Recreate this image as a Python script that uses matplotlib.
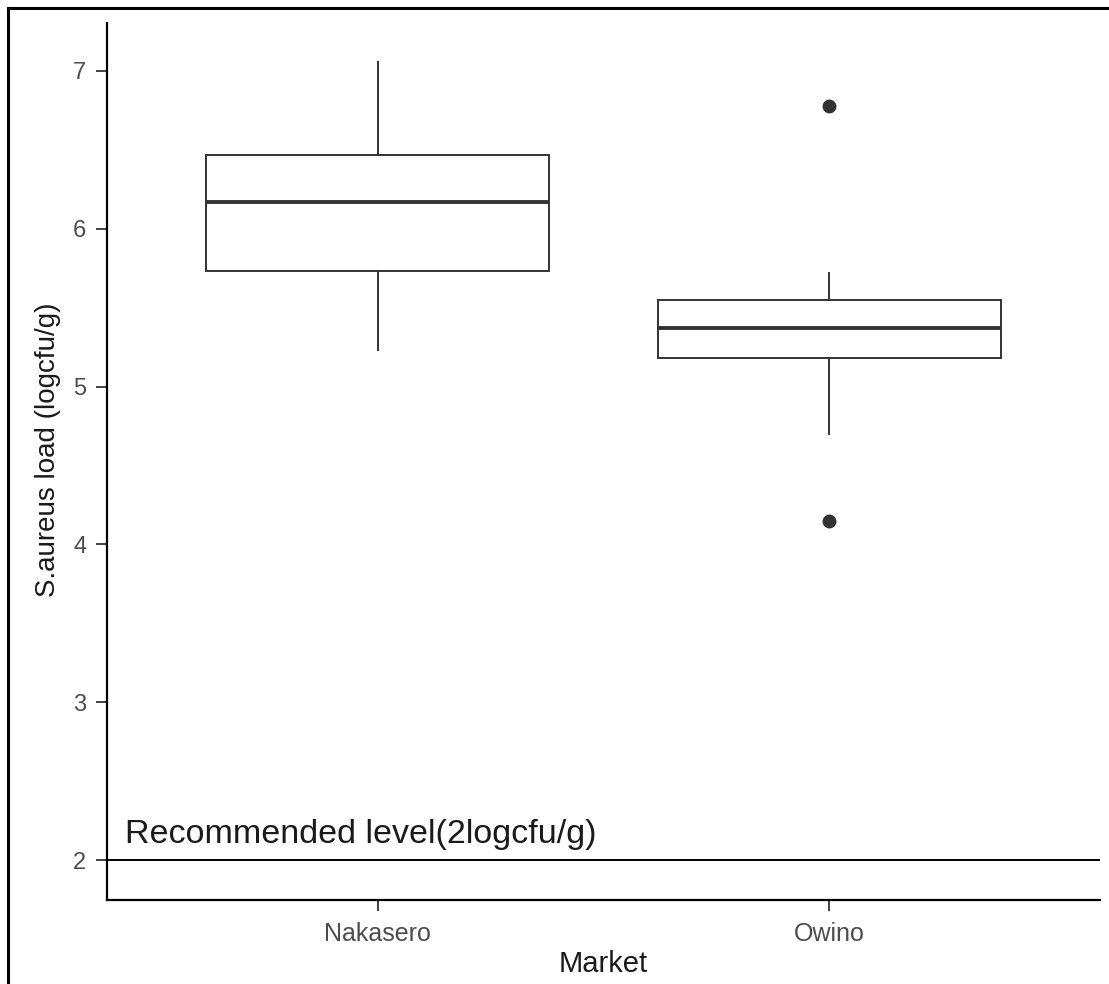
import matplotlib
matplotlib.use("Agg")
import matplotlib.pyplot as plt
from matplotlib.lines import Line2D

plt.rcParams['font.family'] = ['Liberation Sans', 'DejaVu Sans']

# box stats (logcfu/g)
markets = ["Nakasero", "Owino"]
whislo = [5.23, 4.70]
q1 = [5.73, 5.18]
med = [6.17, 5.37]
q3 = [6.47, 5.55]
whishi = [7.06, 5.72]
fliers = [[], [6.78, 4.15]]
recommended = 2.0

stats = []
for i in range(len(markets)):
    stats.append(dict(label=markets[i], whislo=whislo[i], q1=q1[i], med=med[i],
                      q3=q3[i], whishi=whishi[i], fliers=fliers[i]))

fig = plt.figure(figsize=(11.09, 9.84), dpi=100)
ax = fig.add_axes([0.0965, 0.0854, 0.8954, 0.8912])

line_c = "#333333"
ax.bxp(stats, positions=[1, 2], widths=0.76, showcaps=False, patch_artist=True,
       boxprops=dict(facecolor="white", edgecolor=line_c, linewidth=1.4),
       whiskerprops=dict(color=line_c, linewidth=1.4),
       medianprops=dict(color=line_c, linewidth=2.8),
       flierprops=dict(marker="o", markerfacecolor=line_c, markeredgecolor=line_c,
                       markersize=9))

ax.axhline(recommended, color="black", linewidth=1.4)
ax.text(0.44, recommended + 0.11, "Recommended level(2logcfu/g)", fontsize=24.5,
        color="#1a1a1a", va="baseline", ha="left")

ax.set_xlim(0.4, 2.6)
ax.set_ylim(1.747, 7.304)
ax.set_yticks([2, 3, 4, 5, 6, 7])
ax.set_xticks([1, 2])
ax.set_xticklabels(markets)

for s in ["top", "right"]:
    ax.spines[s].set_visible(False)
for s in ["left", "bottom"]:
    ax.spines[s].set_linewidth(1.6)
    ax.spines[s].set_color("black")

ax.tick_params(axis="y", length=8, width=1.3, color="#333333",
               labelcolor="#4D4D4D", labelsize=17, pad=7)
ax.tick_params(axis="x", length=8, width=1.3, color="#333333",
               labelcolor="#4D4D4D", labelsize=18, pad=8)
ax.set_xlabel("Market", fontsize=21, color="#1a1a1a", labelpad=3)
ax.set_ylabel("S.aureus load (logcfu/g)", fontsize=20, color="#1a1a1a")
ax.yaxis.set_label_coords(-0.046, 0.513)

# outer frame (top and left edges visible in the crop)
fig.add_artist(Line2D([0.0072, 0.0072], [0.0, 0.9919], color="black", linewidth=2.2,
                      transform=fig.transFigure))
fig.add_artist(Line2D([0.0072, 1.0], [0.9919, 0.9919], color="black", linewidth=2.2,
                      transform=fig.transFigure))

fig.savefig("out.png", dpi=100)
